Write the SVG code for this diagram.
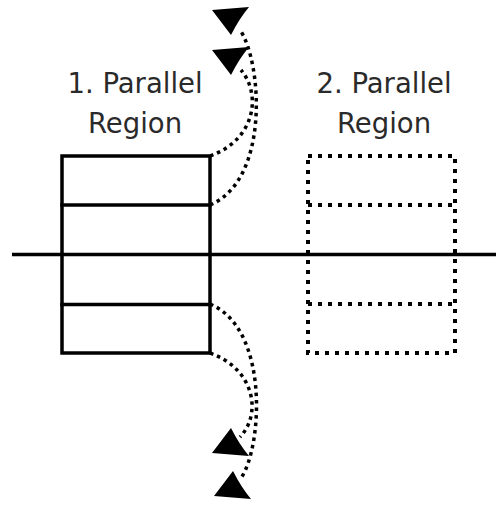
<svg xmlns="http://www.w3.org/2000/svg" xmlns:xlink="http://www.w3.org/1999/xlink" width="496" height="506" viewBox="0 0 496 506">
  <style>
    .solid { fill: none; stroke: #000; stroke-width: 3.5; stroke-linecap: square; }
    .dotted { fill: none; stroke: #000; stroke-width: 4; stroke-dasharray: 4 6; }
    .flow { fill: none; stroke: #000; stroke-width: 3.5; stroke-dasharray: 3.5 4; }
    .label { font-family: "DejaVu Sans", sans-serif; font-size: 27.5px; fill: #2a2a2a; text-anchor: middle; }
    .head { fill: #000; }
  </style>
  <defs>
    <!-- notched arrowhead, tip at the origin -->
    <path id="arrowhead" d="M0,0 L37,-3 Q27,9 19,25 Z"/>
  </defs>

  <rect width="496" height="506" fill="#fff"/>

  <!-- time axis -->
  <g id="axis">
    <line class="solid" x1="12" y1="254.5" x2="496" y2="254.5" style="stroke-linecap:butt"/>
  </g>

  <!-- first parallel region: four threads -->
  <g id="region1">
    <rect class="solid" x="62" y="156" width="148" height="197"/>
    <line class="solid" x1="62" y1="205" x2="210" y2="205"/>
    <line class="solid" x1="62" y1="304.5" x2="210" y2="304.5"/>
    <text class="label" x="135" y="93">1. Parallel</text>
    <text class="label" x="135" y="133">Region</text>
  </g>

  <!-- second parallel region: not yet active -->
  <g id="region2">
    <rect class="dotted" x="308" y="156" width="147" height="197"/>
    <line class="dotted" x1="308" y1="205" x2="455" y2="205"/>
    <line class="dotted" x1="308" y1="304" x2="455" y2="304"/>
    <text class="label" x="384" y="93">2. Parallel</text>
    <text class="label" x="384" y="133">Region</text>
  </g>

  <!-- threads leaving the region -->
  <g id="connectors">
    <path class="flow" d="M210,205 C270,180 262,62 240,30"/>
    <path class="flow" d="M210,156 C255,140 262,95 241,70"/>
    <path class="flow" d="M210,304 C270,329 262,448 241,478"/>
    <path class="flow" d="M210,353 C255,369 262,414 240,437"/>
    <use class="head" xlink:href="#arrowhead" transform="translate(212,10)"/>
    <use class="head" xlink:href="#arrowhead" transform="translate(212,50)"/>
    <use class="head" xlink:href="#arrowhead" transform="translate(212,453) scale(1,-1)"/>
    <use class="head" xlink:href="#arrowhead" transform="translate(214,496) scale(1,-1)"/>
  </g>
</svg>
